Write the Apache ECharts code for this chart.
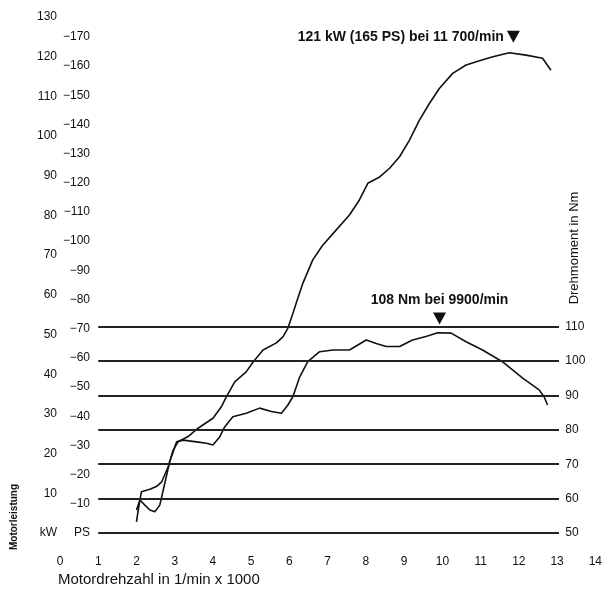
<!DOCTYPE html>
<html>
<head>
<meta charset="utf-8">
<script src="https://cdn.jsdelivr.net/npm/echarts@6/dist/echarts.min.js"></script>
<style>
  html, body { margin: 0; padding: 0; background: #fff; }
  #chart { width: 605px; height: 591px; }
</style>
</head>
<body>
<div id="chart"></div>
<script>
// Motorleistung (kW) ueber Drehzahl (1/min x 1000)
const powerRpm = [2.00, 2.04, 2.09, 2.13, 2.35, 2.52, 2.66, 2.83, 2.96, 3.09, 3.35, 3.61, 4.00, 4.22, 4.35, 4.57, 4.87, 5.05, 5.31, 5.66, 5.83, 5.96, 6.09, 6.18, 6.35, 6.61, 6.87, 7.22, 7.57, 7.83, 8.05, 8.36, 8.62, 8.88, 9.14, 9.40, 9.66, 9.92, 10.27, 10.62, 10.97, 11.32, 11.75, 12.19, 12.62, 12.84];
const powerKw = [2.8, 5.4, 8.3, 10.4, 11.0, 11.7, 12.9, 16.7, 20.9, 23.0, 24.3, 26.4, 28.9, 31.8, 34.3, 38.1, 40.6, 43.1, 46.1, 47.9, 49.4, 51.6, 55.3, 58.0, 62.9, 68.8, 72.5, 76.3, 80.1, 83.9, 88.1, 89.7, 91.9, 94.8, 99.0, 104.0, 108.2, 112.0, 115.8, 117.9, 119.0, 120.0, 121.0, 120.4, 119.6, 116.6];

// Drehmoment (Nm)
const torqueRpm = [2.00, 2.09, 2.22, 2.35, 2.48, 2.61, 2.70, 2.79, 2.87, 3.05, 3.22, 3.57, 3.83, 4.00, 4.18, 4.31, 4.52, 4.87, 5.22, 5.53, 5.79, 5.96, 6.09, 6.27, 6.48, 6.79, 7.14, 7.57, 8.01, 8.27, 8.53, 8.88, 9.22, 9.57, 9.88, 10.23, 10.62, 11.05, 11.57, 12.10, 12.53, 12.66, 12.75];
const torqueNm = [56.7, 59.6, 58.1, 56.7, 56.2, 58.1, 62.5, 66.9, 70.8, 76.5, 77.0, 76.5, 76.1, 75.6, 78.0, 80.9, 83.8, 84.8, 86.3, 85.3, 84.8, 87.2, 89.6, 95.4, 99.8, 102.7, 103.2, 103.2, 106.1, 105.1, 104.2, 104.2, 106.1, 107.1, 108.2, 108.1, 105.6, 103.2, 99.8, 95.0, 91.6, 89.6, 87.2];

// Achsen
const torqueTicks = [50, 60, 70, 80, 90, 100, 110];
const kwMax = 130;
const psPerKw = 1.36;

// Spitzenwerte
const powerPeak = { rpm: 11.7, kw: 121, text: "121 kW (165 PS) bei 11 700/min" };
const torquePeak = { rpm: 9.9, nm: 108, text: "108 Nm bei 9900/min" };

const font = "'Liberation Sans Narrow', 'Liberation Sans', Arial, sans-serif";
const ink = "#111";

const pair = (xs, ys) => xs.map((x, i) => [x, ys[i]]);

const hiddenAxis = {
	axisLine: { show: false },
	axisTick: { show: false },
	splitLine: { show: false },
};

const option = {
	animation: false,
	textStyle: { fontFamily: font, color: ink },
	grid: { left: 60, right: 9, top: 17, bottom: 58 },
	xAxis: {
		type: "value",
		min: 0,
		max: 14,
		interval: 1,
		...hiddenAxis,
		axisLabel: { color: ink, fontSize: 12, margin: 23, fontFamily: font },
	},
	yAxis: [
		{
			type: "value",
			position: "left",
			min: 0,
			max: kwMax,
			interval: 10,
			...hiddenAxis,
			axisLabel: {
				color: ink,
				fontSize: 12,
				margin: 3,
				fontFamily: font,
				formatter: (v) => (v === 0 ? "kW" : v),
			},
		},
		{
			type: "value",
			position: "left",
			offset: -32,
			min: 0,
			max: kwMax * psPerKw,
			interval: 10,
			...hiddenAxis,
			axisLabel: {
				color: ink,
				fontSize: 12,
				margin: 2,
				fontFamily: font,
				formatter: (v) => (v === 0 ? "PS" : v % 10 === 0 ? "\u2212" + v : ""),
			},
		},
		{
			type: "value",
			position: "right",
			offset: -36,
			min: 50,
			max: 200,
			interval: 10,
			...hiddenAxis,
			axisLabel: {
				color: ink,
				fontSize: 12,
				margin: 6,
				fontFamily: font,
				formatter: (v) => (torqueTicks.includes(v) ? v : ""),
			},
		},
	],
	graphic: [
		{
			type: "text",
			x: 14,
			y: 517,
			rotation: Math.PI / 2,
			style: {
				text: "Motorleistung",
				font: "bold 10px " + font,
				fill: ink,
				align: "center",
				verticalAlign: "middle",
			},
		},
		{
			type: "text",
			x: 574,
			y: 248,
			rotation: Math.PI / 2,
			style: {
				text: "Drehmoment in Nm",
				font: "13px " + font,
				fill: ink,
				align: "center",
				verticalAlign: "middle",
			},
		},
		{
			type: "text",
			left: 58,
			top: 572,
			style: {
				text: "Motordrehzahl in 1/min x 1000",
				font: "15px " + font,
				fill: ink,
			},
		},
	],
	series: [
		{
			name: "Drehmoment",
			type: "line",
			yAxisIndex: 2,
			showSymbol: false,
			symbol: "none",
			lineStyle: { color: ink, width: 1.6 },
			data: pair(torqueRpm, torqueNm),
			markLine: {
				silent: true,
				symbol: "none",
				label: { show: false },
				lineStyle: { color: "#222", width: 1.9, type: "solid" },
				data: torqueTicks.map((v) => [{ coord: [1, v] }, { coord: [13.05, v] }]),
			},
			markPoint: {
				silent: true,
				symbol: "triangle",
				symbolRotate: 180,
				symbolSize: [13, 12],
				symbolOffset: [1, -15],
				itemStyle: { color: ink },
				label: {
					show: true,
					position: "top",
					distance: 5,
					color: ink,
					fontFamily: font,
					fontSize: 14,
					fontWeight: "bold",
					formatter: torquePeak.text,
				},
				data: [{ coord: [torquePeak.rpm, torquePeak.nm] }],
			},
		},
		{
			name: "Leistung",
			type: "line",
			yAxisIndex: 0,
			showSymbol: false,
			symbol: "none",
			lineStyle: { color: ink, width: 1.6 },
			data: pair(powerRpm, powerKw),
			markPoint: {
				silent: true,
				symbol: "triangle",
				symbolRotate: 180,
				symbolSize: [13, 12],
				symbolOffset: [6, -16],
				itemStyle: { color: ink },
				label: {
					show: true,
					position: "left",
					distance: 3,
					color: ink,
					fontFamily: font,
					fontSize: 14,
					fontWeight: "bold",
					formatter: powerPeak.text,
				},
				data: [{ coord: [powerPeak.rpm, powerPeak.kw] }],
			},
		},
	],
};

const chart = echarts.init(document.getElementById("chart"));
chart.setOption(option);
</script>
</body>
</html>
